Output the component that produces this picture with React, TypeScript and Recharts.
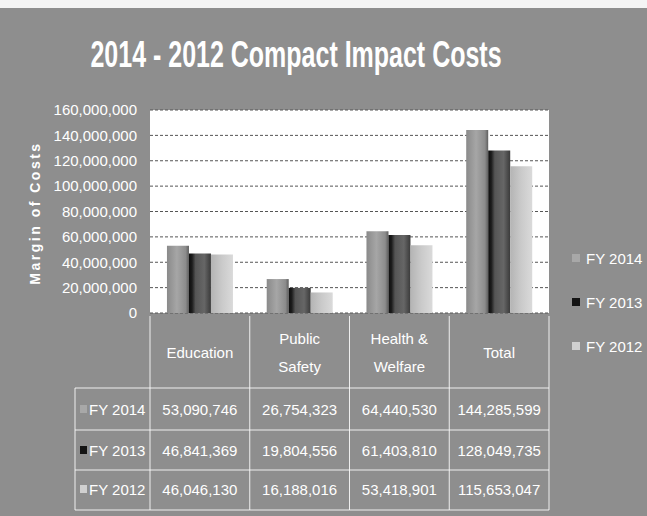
import React from 'react';
import { BarChart, Bar, XAxis, YAxis, CartesianGrid, Legend } from 'recharts';

// ---- data ----
const categories = ['Education', 'Public Safety', 'Health & Welfare', 'Total'];
const fy2014 = [53090746, 26754323, 64440530, 144285599];
const fy2013 = [46841369, 19804556, 61403810, 128049735];
const fy2012 = [46046130, 16188016, 53418901, 115653047];
const seriesNames = ['FY 2014', 'FY 2013', 'FY 2012'];
const seriesKeys = ['fy2014', 'fy2013', 'fy2012'];
const seriesValues = [fy2014, fy2013, fy2012];
const yTicks = [0, 20000000, 40000000, 60000000, 80000000, 100000000, 120000000, 140000000, 160000000];
const titleText = '2014 - 2012 Compact Impact Costs';
const yAxisTitle = 'Margin of Costs';

const data = categories.map((c, i) => ({
  category: c,
  fy2014: fy2014[i],
  fy2013: fy2013[i],
  fy2012: fy2012[i],
}));

// ---- style ----
const W = 647;
const H = 516;
const FONT = '"Liberation Sans", Arial, sans-serif';
const BG = '#8e8e8e';
const PLOT_LEFT = 150;
const PLOT_RIGHT = 549;
const PLOT_TOP = 110;
const XAXIS_H = 203;
const BAND = (PLOT_RIGHT - PLOT_LEFT) / categories.length;
const keyColors = ['#a8a8a8', '#141414', '#d0d0d0'];
const gradIds = ['g2014', 'g2013', 'g2012'];
const LINE = 'rgba(255,255,255,0.85)';

const fmt = (v: number) => v.toLocaleString('en-US');

function wrapLabel(s: string, max = 9): string[] {
  const words = s.split(' ');
  const lines: string[] = [];
  let cur = '';
  for (const w of words) {
    const next = cur ? cur + ' ' + w : w;
    if (next.length > max && cur) {
      lines.push(cur);
      cur = w;
    } else cur = next;
  }
  if (cur) lines.push(cur);
  return lines;
}

// relative offsets (from axis top) for table rows / rules
const rowBase = [102, 143, 182];
const ruleY = [75, 117, 157, 197];

function CategoryTick(props: any) {
  const { x, y, payload } = props;
  const idx = categories.indexOf(payload.value);
  const half = BAND / 2;
  const left = x - half;
  const right = x + half;
  const lines = wrapLabel(String(payload.value));
  const labelBase = lines.length === 1 ? [45] : [31, 59];
  const textStyle = { fill: '#fff', fontSize: 15, fontFamily: FONT } as any;
  return (
    <g>
      <line x1={left} x2={left} y1={y + 3} y2={y + ruleY[3]} stroke={LINE} strokeWidth={1} />
      {idx === categories.length - 1 && (
        <line x1={right} x2={right} y1={y + 3} y2={y + ruleY[3]} stroke={LINE} strokeWidth={1} />
      )}
      {ruleY.map((r, k) => (
        <line key={k} x1={left} x2={right} y1={y + r} y2={y + r} stroke={LINE} strokeWidth={1} />
      ))}
      {lines.map((l, k) => (
        <text key={k} x={x} y={y + labelBase[k]} textAnchor="middle" style={textStyle}>
          {l}
        </text>
      ))}
      {seriesValues.map((vals, s) => (
        <text key={s} x={x} y={y + rowBase[s]} textAnchor="middle" style={textStyle}>
          {fmt(vals[idx])}
        </text>
      ))}
      {idx === 0 && (
        <g>
          <line x1={left - 75} x2={left - 75} y1={y + ruleY[0]} y2={y + ruleY[3]} stroke={LINE} strokeWidth={1} />
          {ruleY.map((r, k) => (
            <line key={k} x1={left - 75} x2={left} y1={y + r} y2={y + r} stroke={LINE} strokeWidth={1} />
          ))}
          {seriesNames.map((n, s) => (
            <g key={s}>
              <rect x={left - 70} y={y + rowBase[s] - 10} width={7} height={8} fill={keyColors[s]} />
              <text x={left - 61} y={y + rowBase[s]} style={textStyle}>
                {n}
              </text>
            </g>
          ))}
        </g>
      )}
    </g>
  );
}

function LegendContent(props: any) {
  const payload = [...(props.payload || [])].sort(
    (a: any, b: any) => seriesNames.indexOf(a.value) - seriesNames.indexOf(b.value)
  );
  return (
    <div style={{ display: 'flex', flexDirection: 'column' }}>
      {payload.map((p: any, i: number) => {
        const s = seriesNames.indexOf(p.value);
        return (
          <div
            key={i}
            style={{
              height: 44,
              display: 'flex',
              alignItems: 'center',
              color: '#fff',
              fontFamily: FONT,
              fontSize: 15,
              whiteSpace: 'nowrap',
            }}
          >
            <span
              style={{
                display: 'inline-block',
                width: 8,
                height: 8,
                background: keyColors[s],
                marginRight: 6,
              }}
            />
            {p.value}
          </div>
        );
      })}
    </div>
  );
}

export default function App() {
  return (
    <div
      style={{
        position: 'absolute',
        left: 0,
        top: 0,
        width: W,
        height: H,
        background: BG,
        overflow: 'hidden',
      }}
    >
      <div style={{ position: 'absolute', left: 0, top: 0, width: W, height: 8, background: '#f4f4f4' }} />
      <svg width={0} height={0} style={{ position: 'absolute' }}>
        <defs>
          <linearGradient id="g2014" x1="0" y1="0" x2="1" y2="0">
            <stop offset="0%" stopColor="#8a8a8a" />
            <stop offset="45%" stopColor="#a6a6a6" />
            <stop offset="85%" stopColor="#8c8c8c" />
            <stop offset="100%" stopColor="#5e5e5e" />
          </linearGradient>
          <linearGradient id="g2013" x1="0" y1="0" x2="1" y2="0">
            <stop offset="0%" stopColor="#0e0e0e" />
            <stop offset="14%" stopColor="#1c1c1c" />
            <stop offset="30%" stopColor="#555555" />
            <stop offset="70%" stopColor="#666666" />
            <stop offset="100%" stopColor="#3a3a3a" />
          </linearGradient>
          <linearGradient id="g2012" x1="0" y1="0" x2="1" y2="0">
            <stop offset="0%" stopColor="#b4b4b4" />
            <stop offset="50%" stopColor="#cacaca" />
            <stop offset="100%" stopColor="#dadada" />
          </linearGradient>
        </defs>
      </svg>
      <div style={{ position: 'absolute', left: 0, top: 0 }}>
        <BarChart
          width={W}
          height={H}
          data={data}
          margin={{ top: PLOT_TOP, right: W - PLOT_RIGHT, bottom: 0, left: 0 }}
          barCategoryGap="17%"
          barGap={0}
        >
          <CartesianGrid
            vertical={false}
            fill="#ffffff"
            stroke="#555555"
            strokeDasharray="3 2"
          />
          <XAxis
            dataKey="category"
            height={XAXIS_H}
            tick={<CategoryTick />}
            tickLine={false}
            axisLine={false}
            tickSize={0}
            tickMargin={0}
            interval={0}
          />
          <YAxis
            width={PLOT_LEFT}
            domain={[0, 160000000]}
            ticks={yTicks}
            interval={0}
            tickFormatter={fmt}
            tick={{ fill: '#ffffff', fontSize: 15, fontFamily: FONT }}
            axisLine={false}
            tickLine={false}
            tickSize={0}
            tickMargin={13}
          />
          <Legend
            layout="vertical"
            align="center"
            verticalAlign="middle"
            content={<LegendContent />}
            wrapperStyle={{ left: 572, top: 236, width: 75, height: 132 }}
          />
          {seriesKeys.map((k, i) => (
            <Bar
              key={k}
              dataKey={k}
              name={seriesNames[i]}
              fill={`url(#${gradIds[i]})`}
              isAnimationActive={false}
            />
          ))}
        </BarChart>
      </div>
      <svg
        width={W}
        height={H}
        style={{ position: 'absolute', left: 0, top: 0, pointerEvents: 'none' }}
      >
        <text
          transform="translate(296,67) scale(1,1.45)"
          textAnchor="middle"
          style={{ fill: '#fff', fontSize: 25, fontWeight: 'bold', fontFamily: FONT }}
        >
          {titleText}
        </text>
        <text
          transform="translate(40,213) rotate(-90)"
          textAnchor="middle"
          letterSpacing={2.5}
          style={{ fill: '#fff', fontSize: 14, fontWeight: 'bold', fontFamily: FONT }}
        >
          {yAxisTitle}
        </text>
      </svg>
    </div>
  );
}
